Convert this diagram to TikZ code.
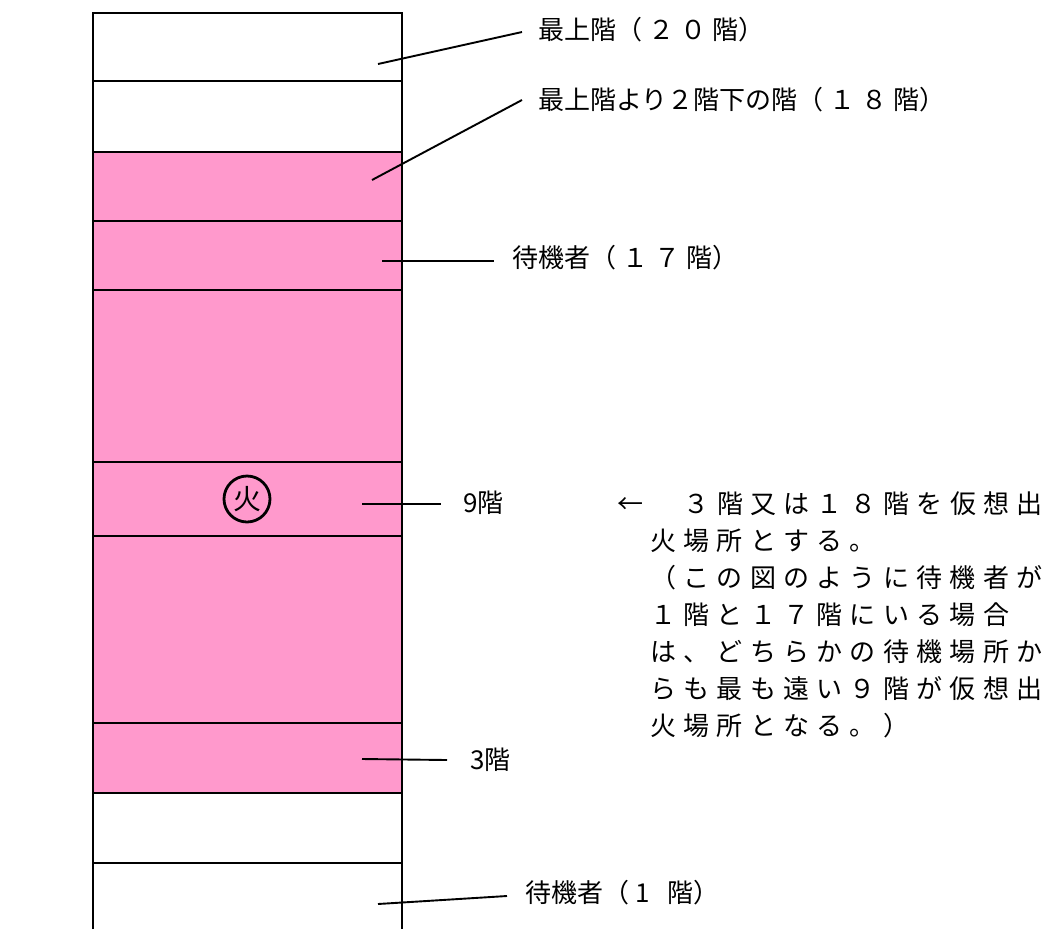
\documentclass[tikz,border=0pt]{standalone}
\usepackage{fontspec}
\setmainfont{Noto Sans CJK JP}
\newlength\spcpitch
\newcommand\spaced[2]{\setlength\spcpitch{#1}\spacedloop#2\relax}
\def\spacedloop#1{\ifx#1\relax\else\makebox[\spcpitch][l]{#1}\expandafter\spacedloop\fi}
\definecolor{floorpink}{RGB}{255,153,204}
\tikzset{
  wall/.style={line width=2.7pt},
  leader/.style={line width=1.9pt},
  lbl/.style={anchor=west,inner sep=0pt,font=\fontsize{26}{30}\selectfont},
  para/.style={anchor=west,inner sep=0pt,font=\fontsize{26}{30}\selectfont},
}
\begin{document}
\begin{tikzpicture}[x=1pt,y=-1pt]
\useasboundingbox (0,0) rectangle (1054,929);
% pink floors
\fill[floorpink] (93,152) rectangle (402,793);
% walls
\draw[wall] (93,929) -- (93,13) -- (402,13) -- (402,929);
\foreach \yy in {81,152,221,290,462,536,723,793,863}
  \draw[wall] (93,\yy) -- (402,\yy);
% fire mark
\node[circle,draw,line width=2.8pt,minimum size=46pt,inner sep=0pt,font=\fontsize{28}{30}\selectfont] (fire) at (247,499) {火};
% labels
\node[lbl] (L20) at (538,30) {最上階\spaced{32pt}{（２０}階）};
\node[lbl] (L18) at (538,100) {最上階より２階下の階\spaced{32pt}{（１８}階）};
\node[lbl] (L17) at (512,258) {待機者\spaced{32pt}{（１７}階）};
\node[lbl] (L9) at (463,503) {9階};
\node[lbl] (L3) at (470,760) {3階};
\node[lbl] (L1) at (525,893) {待機者\spaced{32pt}{（1}階）};
% leader start points
\coordinate (s20) at (378,64);
\coordinate (s18) at (372,180);
\coordinate (s17) at (382,261);
\coordinate (s9) at (362,504);
\coordinate (s3) at (362,759);
\coordinate (s1) at (378,904);
\draw[leader] (s20) -- ([xshift=-16pt,yshift=-2pt]L20.west);
\draw[leader] (s18) -- ([xshift=-16pt]L18.west);
\draw[leader] (s17) -- ([xshift=-18pt,yshift=-3pt]L17.west);
\draw[leader] (s9) -- ([xshift=-22pt,yshift=-1pt]L9.west);
\draw[leader] (s3) -- ([xshift=-23pt]L3.west);
\draw[leader] (s1) -- ([xshift=-18pt,yshift=-3pt]L1.west);
% explanation paragraph
\node[para] (P1) at (617,504) {\makebox[33.3pt][l]{←}\hspace{33.3pt}\spaced{33.3pt}{３階又は１８階を仮想出}};
\node[para] (P2) at (650,541) {\spaced{33.3pt}{火場所とする。}};
\node[para] (P3) at (650,578) {\spaced{33.3pt}{（この図のように待機者が}};
\node[para] (P4) at (650,615) {\spaced{33.3pt}{１階と１７階にいる場合}};
\node[para] (P5) at (650,652) {\spaced{33.3pt}{は、どちらかの待機場所か}};
\node[para] (P6) at (650,689) {\spaced{33.3pt}{らも最も遠い９階が仮想出}};
\node[para] (P7) at (650,726) {\spaced{33.3pt}{火場所となる。）}};
\end{tikzpicture}
\end{document}
